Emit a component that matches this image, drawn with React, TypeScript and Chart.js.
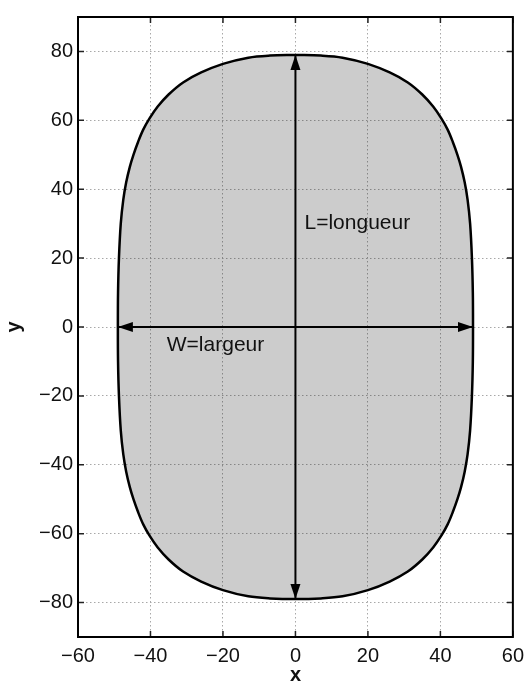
import React, { useEffect, useRef } from "react";
import { Chart, registerables } from "chart.js";

Chart.register(...registerables);

// Outline of the shape, clockwise from the top
const outlineX = [
  0, 7, 13, 20, 26, 31, 35, 38, 40.3, 42, 43.4, 44.7, 45.7, 46.7, 47.5, 48.2, 48.7, 48.95, 49,
  48.95, 48.7, 48.2, 47.5, 46.7, 45.7, 44.7, 43.4, 42, 40.3, 38, 35, 31, 26, 20, 13, 7, 0,
  -7, -13, -20, -26, -31, -35, -38, -40.3, -42, -43.4, -44.7, -45.7, -46.7, -47.5, -48.2, -48.7, -48.95, -49,
  -48.95, -48.7, -48.2, -47.5, -46.7, -45.7, -44.7, -43.4, -42, -40.3, -38, -35, -31, -26, -20, -13, -7, 0,
];
const outlineY = [
  79, 78.8, 78.2, 76.4, 73.9, 71.0, 67.5, 64.0, 60.5, 57.3, 53.8, 50, 46.5, 42, 37, 30, 20, 10, 0,
  -10, -20, -30, -37, -42, -46.5, -50, -53.8, -57.3, -60.5, -64.0, -67.5, -71.0, -73.9, -76.4, -78.2, -78.8, -79,
  -78.8, -78.2, -76.4, -73.9, -71.0, -67.5, -64.0, -60.5, -57.3, -53.8, -50, -46.5, -42, -37, -30, -20, -10, 0,
  10, 20, 30, 37, 42, 46.5, 50, 53.8, 57.3, 60.5, 64.0, 67.5, 71.0, 73.9, 76.4, 78.2, 78.8, 79,
];

// Double arrows
const lengthArrowX = [0, 0];
const lengthArrowY = [-79, 79];
const widthArrowX = [-49, 49];
const widthArrowY = [0, 0];

// Annotations
const labelTexts = ["L=longueur", "W=largeur"];
const labelX = [2.5, -35.5];
const labelY = [30, -5.3];

// Ticks
const xTicks = [-60, -40, -20, 0, 20, 40, 60];
const yTicks = [-80, -60, -40, -20, 0, 20, 40, 60, 80];

const fmt = (v: number) => (v < 0 ? "\u2212" + Math.abs(v) : String(v));

const overlayPlugin = {
  id: "overlay",
  afterDatasetsDraw(chart: any) {
    const { ctx, chartArea } = chart;
    const xs = chart.scales.x;
    const ys = chart.scales.y;
    ctx.save();
    const head = (tx: number, ty: number, dx: number, dy: number) => {
      const L = 15, W = 5;
      const px = -dy, py = dx;
      ctx.beginPath();
      ctx.moveTo(tx, ty);
      ctx.lineTo(tx - dx * L + px * W, ty - dy * L + py * W);
      ctx.lineTo(tx - dx * L - px * W, ty - dy * L - py * W);
      ctx.closePath();
      ctx.fillStyle = "#000";
      ctx.fill();
    };
    const arrows = [
      [lengthArrowX, lengthArrowY],
      [widthArrowX, widthArrowY],
    ];
    for (const [ax, ay] of arrows) {
      const x0 = xs.getPixelForValue(ax[0]);
      const y0 = ys.getPixelForValue(ay[0]);
      const x1 = xs.getPixelForValue(ax[1]);
      const y1 = ys.getPixelForValue(ay[1]);
      const len = Math.hypot(x1 - x0, y1 - y0);
      const dx = (x1 - x0) / len;
      const dy = (y1 - y0) / len;
      head(x1, y1, dx, dy);
      head(x0, y0, -dx, -dy);
    }
    ctx.fillStyle = "#111";
    ctx.font = "21px 'Liberation Sans', Arial, sans-serif";
    ctx.textAlign = "left";
    ctx.textBaseline = "middle";
    labelTexts.forEach((t, i) => {
      ctx.fillText(t, xs.getPixelForValue(labelX[i]), ys.getPixelForValue(labelY[i]));
    });
    ctx.strokeStyle = "#222";
    ctx.lineWidth = 1.5;
    const tl = 6;
    ctx.beginPath();
    xTicks.forEach((v) => {
      const p = xs.getPixelForValue(v);
      ctx.moveTo(p, chartArea.top);
      ctx.lineTo(p, chartArea.top + tl);
      ctx.moveTo(p, chartArea.bottom);
      ctx.lineTo(p, chartArea.bottom - tl);
    });
    yTicks.forEach((v) => {
      const p = ys.getPixelForValue(v);
      ctx.moveTo(chartArea.left, p);
      ctx.lineTo(chartArea.left + tl, p);
      ctx.moveTo(chartArea.right, p);
      ctx.lineTo(chartArea.right - tl, p);
    });
    ctx.stroke();
    ctx.strokeStyle = "#000";
    ctx.lineWidth = 2;
    ctx.strokeRect(chartArea.left, chartArea.top, chartArea.right - chartArea.left, chartArea.bottom - chartArea.top);
    ctx.restore();
  },
};

export default function App() {
  const ref = useRef<HTMLCanvasElement | null>(null);
  useEffect(() => {
    if (!ref.current) return;
    const tickFont = { family: "'Liberation Sans', Arial, sans-serif", size: 20 };
    const grid = {
      color: "#a8a8a8",
      lineWidth: 1,
      drawTicks: false,
      tickLength: 0,
    };
    const chart = new Chart(ref.current, {
      type: "scatter",
      data: {
        datasets: [
          {
            data: outlineX.map((x, i) => ({ x, y: outlineY[i] })),
            showLine: true,
            fill: "shape",
            backgroundColor: "rgba(0,0,0,0.2)",
            borderColor: "#000",
            borderWidth: 2.5,
            pointRadius: 0,
            tension: 0.35,
          },
          {
            data: lengthArrowX.map((x, i) => ({ x, y: lengthArrowY[i] })),
            showLine: true,
            borderColor: "#000",
            borderWidth: 2,
            pointRadius: 0,
          },
          {
            data: widthArrowX.map((x, i) => ({ x, y: widthArrowY[i] })),
            showLine: true,
            borderColor: "#000",
            borderWidth: 2,
            pointRadius: 0,
          },
        ],
      },
      options: {
        responsive: false,
        animation: false,
        layout: { padding: { left: 0, top: 14, right: 12, bottom: 0 } },
        plugins: { legend: { display: false }, tooltip: { enabled: false } },
        scales: {
          x: {
            type: "linear",
            min: -60,
            max: 60,
            afterBuildTicks: (s: any) => {
              s.ticks = xTicks.map((v) => ({ value: v }));
            },
            afterFit: (s: any) => {
              s.height = 48;
            },
            ticks: { font: tickFont, color: "#111", padding: 7, callback: (v: any) => fmt(Number(v)), maxRotation: 0 },
            grid: { ...grid },
            border: { display: false, dash: [1.5, 2.5] },
            title: {
              display: true,
              text: "x",
              font: { family: "'Liberation Sans', Arial, sans-serif", size: 20, weight: "bold", lineHeight: 1 },
              color: "#111",
              padding: { top: 0, bottom: 0 },
            },
          },
          y: {
            type: "linear",
            min: -90,
            max: 90,
            afterBuildTicks: (s: any) => {
              s.ticks = yTicks.map((v) => ({ value: v }));
            },
            afterFit: (s: any) => {
              s.width = 78;
            },
            ticks: { font: tickFont, color: "#111", padding: 5, callback: (v: any) => fmt(Number(v)) },
            grid: { ...grid },
            border: { display: false, dash: [1.5, 2.5] },
            title: {
              display: true,
              text: "y",
              font: { family: "'Liberation Sans', Arial, sans-serif", size: 20, weight: "bold", lineHeight: 1 },
              color: "#111",
              padding: { top: 4, bottom: 0 },
            },
          },
        },
      },
      plugins: [overlayPlugin],
    } as any);
    return () => chart.destroy();
  }, []);
  return (
    <div style={{ position: "absolute", left: 0, top: 0, width: 531, height: 685, background: "#fff" }}>
      <canvas ref={ref} width={531} height={685} />
    </div>
  );
}
